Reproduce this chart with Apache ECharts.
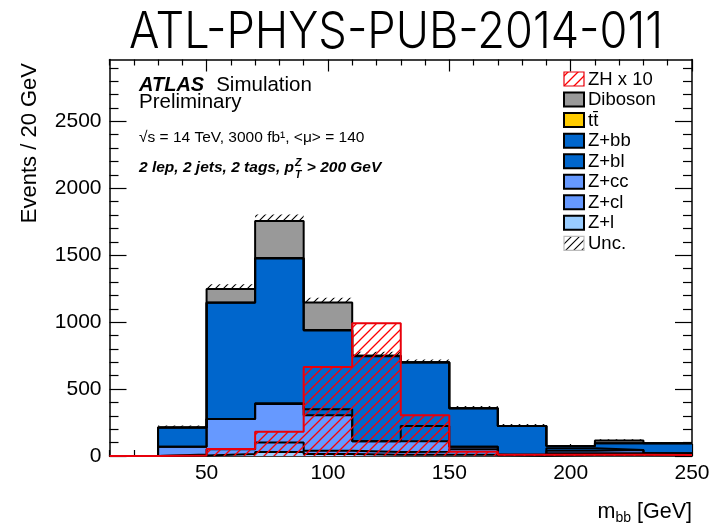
<!DOCTYPE html>
<html>
<head>
<meta charset="utf-8">
<script src="https://cdn.jsdelivr.net/npm/echarts@6/dist/echarts.min.js"></script>
<style>
  html, body { margin: 0; padding: 0; background: #fff; }
  #chart { width: 714px; height: 523px; }
</style>
</head>
<body>
<div id="chart"></div>
<script>
// m_bb bin edges [GeV], 20 GeV per bin
const binEdges = [10, 30, 50, 70, 90, 110, 130, 150, 170, 190, 210, 230, 250];

// Background expectation per bin, stacked from the bottom up
const zl      = [0, 3, 15, 30, 15, 10, 10, 10, 2, 8, 8, 5];
const zcl     = [0, 8, 35, 70, 25, 20, 22, 40, 3, 12, 12, 5];
const zcc     = [0, 59, 227, 289, 265, 80, 78, 20, 5, 20, 25, 10];
const zbl     = [0, 0, 0, 5, 45, 0, 114, 0, 0, 18, 0, 0];
const zbb     = [0, 142, 867, 1081, 588, 635, 474, 287, 214, 17, 50, 75];
const ttbar   = [0, 0, 3, 5, 4, 3, 3, 0, 0, 0, 0, 0];
const diboson = [0, 0, 101, 275, 205, 0, 0, 0, 0, 0, 20, 0];

// Total background uncertainty per bin
const bkgUnc  = [0, 15, 35, 50, 35, 30, 20, 17, 15, 8, 10, 8];

// ZH signal, scaled by 10
const zhx10   = [0, 4, 52, 182, 665, 992, 305, 32, 10, 10, 10, 8];

// Axis ticks and labels
const xMajor = [50, 100, 150, 200, 250];
const xMinor = [10, 20, 30, 40, 60, 70, 80, 90, 110, 120, 130, 140, 160, 170, 180, 190, 210, 220, 230, 240];
const yMajor = [0, 500, 1000, 1500, 2000, 2500];
const yMinor = [100, 200, 300, 400, 600, 700, 800, 900, 1100, 1200, 1300, 1400, 1600, 1700, 1800, 1900,
                2100, 2200, 2300, 2400, 2600, 2700, 2800, 2900];
const xMin = 10, xMax = 250, yMin = 0, yMax = 2962;

const FONT = '"Liberation Sans", Arial, Helvetica, sans-serif';

const nBins = binEdges.length - 1;
const layers = [
  { name: 'Z+l',     values: zl,      color: '#99ccff' },
  { name: 'Z+cl',    values: zcl,     color: '#6699ff' },
  { name: 'Z+cc',    values: zcc,     color: '#6699ff' },
  { name: 'Z+bl',    values: zbl,     color: '#0066cc' },
  { name: 'Z+bb',    values: zbb,     color: '#0066cc' },
  { name: 'tt\u0304', values: ttbar,  color: '#ffcc00' },
  { name: 'Diboson', values: diboson, color: '#999999' }
];

// running sums give the top edge of each stacked layer
let running = new Array(nBins).fill(0);
layers.forEach(l => {
  running = running.map((v, i) => v + l.values[i]);
  l.cum = running.slice();
});
const total = running;

// histogram as step points on the bin edges
function stepPoints(vals) {
  return binEdges.map((e, i) => [e, vals[Math.min(i, nBins - 1)]]);
}

// diagonal hatch tile used as a pattern fill
function hatch(color, size, width) {
  const c = document.createElement('canvas');
  c.width = size; c.height = size;
  const g = c.getContext('2d');
  g.strokeStyle = color;
  g.lineWidth = width;
  g.beginPath();
  g.moveTo(0, size); g.lineTo(size, 0);
  g.moveTo(-size / 2, size / 2); g.lineTo(size / 2, -size / 2);
  g.moveTo(size / 2, size * 1.5); g.lineTo(size * 1.5, size / 2);
  g.stroke();
  return { image: c, repeat: 'repeat' };
}
const redHatch = hatch('#ff0000', 10, 1.3);
const blackHatch = hatch('#000000', 8, 1.1);

const series = [];

// uncertainty band around the stacked total
series.push({
  type: 'custom',
  name: 'Unc.',
  z: 1,
  silent: true,
  clip: true,
  encode: { x: [0, 1], y: [2, 3] },
  data: total.map((t, i) => [binEdges[i], binEdges[i + 1], t - bkgUnc[i], t + bkgUnc[i]])
             .filter(d => d[3] > d[2]),
  renderItem(params, api) {
    const a = api.coord([api.value(0), api.value(3)]);
    const b = api.coord([api.value(1), api.value(2)]);
    return {
      type: 'rect',
      shape: { x: a[0], y: a[1], width: b[0] - a[0], height: b[1] - a[1] },
      style: { fill: blackHatch, stroke: null }
    };
  }
});

// stacked backgrounds, largest envelope first so smaller ones sit on top
layers.slice().reverse().forEach(l => {
  series.push({
    type: 'line',
    name: l.name,
    step: 'end',
    z: 2,
    silent: true,
    symbol: 'none',
    showSymbol: false,
    data: stepPoints(l.cum),
    lineStyle: { color: '#000', width: 2 },
    areaStyle: { color: l.color, opacity: 1 }
  });
});

// ZH x 10 overlay
series.push({
  type: 'line',
  name: 'ZH x 10',
  step: 'end',
  z: 3,
  silent: true,
  symbol: 'none',
  showSymbol: false,
  data: stepPoints(zhx10),
  lineStyle: { color: '#e8000b', width: 2 },
  areaStyle: { color: redHatch, opacity: 1 }
});

const plainNumber = v => String(v);

function xAxisDef(position, ticks, len, labels, showLine) {
  return {
    type: 'value', min: xMin, max: xMax, position: position,
    axisLine: { show: showLine, onZero: false, lineStyle: { color: '#000', width: 1.5 } },
    axisTick: { show: true, inside: true, length: len, customValues: ticks, lineStyle: { color: '#000', width: 1.2 } },
    axisLabel: labels
      ? { show: true, customValues: labels, formatter: plainNumber, color: '#000', fontSize: 21, fontFamily: FONT, margin: 7 }
      : { show: false },
    splitLine: { show: false }
  };
}
function yAxisDef(position, ticks, len, labels, showLine) {
  return {
    type: 'value', min: yMin, max: yMax, position: position,
    axisLine: { show: showLine, onZero: false, lineStyle: { color: '#000', width: 1.5 } },
    axisTick: { show: true, inside: true, length: len, customValues: ticks, lineStyle: { color: '#000', width: 1.2 } },
    axisLabel: labels
      ? { show: true, customValues: labels, formatter: plainNumber, color: '#000', fontSize: 21, fontFamily: FONT, margin: 8 }
      : { show: false },
    splitLine: { show: false }
  };
}

// text helpers
const mctx = document.createElement('canvas').getContext('2d');
function textWidth(str, font) { mctx.font = font; return mctx.measureText(str).width; }
function txt(str, x, y, font, opts) {
  return {
    type: 'text', silent: true, z: 50,
    style: Object.assign({ text: str, x: x, y: y, font: font, fill: '#000', align: 'left', verticalAlign: 'middle' }, opts || {})
  };
}

const graphics = [];

// document number above the frame, squeezed to its column width
const docId = 'ATL-PHYS-PUB-2014-011';
const fDoc = '300 50px Inter, Lato, "Open Sans", sans-serif';
const docScale = 534 / textWidth(docId, fDoc);
graphics.push({
  type: 'text', silent: true, z: 50, x: 396, y: 33, scaleX: docScale,
  style: { text: docId, x: 0, y: 0, font: fDoc, fill: '#000', align: 'center', verticalAlign: 'middle' }
});

// ATLAS label block
const fAtlas = 'bold italic 20px ' + FONT;
const fSim = '20.5px ' + FONT;
graphics.push(txt('ATLAS', 139, 85, fAtlas));
graphics.push(txt('Simulation', 139 + textWidth('ATLAS', fAtlas) + 12, 85, fSim));
graphics.push(txt('Preliminary', 139, 102, fSim));
graphics.push(txt('\u221As = 14 TeV, 3000 fb\u00B9, <\u03BC> = 140', 139, 138, '15.5px ' + FONT));

const fSel = 'bold italic 15.5px ' + FONT;
const fSelSmall = 'bold italic 10.5px ' + FONT;
const selA = '2 lep, 2 jets, 2 tags, p';
const wA = textWidth(selA, fSel);
graphics.push(txt(selA, 139, 168, fSel));
graphics.push(txt('Z', 139 + wA + 1, 163, fSelSmall));
graphics.push(txt('T', 139 + wA + 1, 175, fSelSmall));
graphics.push(txt(' > 200 GeV', 139 + wA + 1 + textWidth('Z', fSelSmall) + 1, 168, fSel));

// axis titles
graphics.push({
  type: 'text', silent: true, z: 50, x: 30, y: 63, rotation: Math.PI / 2,
  style: { text: 'Events / 20 GeV', x: 0, y: 0, font: '22px ' + FONT, fill: '#000', align: 'right', verticalAlign: 'middle' }
});
const fAx = '21.5px ' + FONT, fAxSub = '14px ' + FONT;
const wGeV = textWidth(' [GeV]', fAx);
const wbb = textWidth('bb', fAxSub);
const wm = textWidth('m', fAx);
const xRight = 692;
graphics.push(txt(' [GeV]', xRight - wGeV, 512, fAx));
graphics.push(txt('bb', xRight - wGeV - wbb, 518, fAxSub));
graphics.push(txt('m', xRight - wGeV - wbb - wm, 512, fAx));

// legend
const legendItems = [
  { label: 'ZH x 10', fill: redHatch, stroke: '#e8000b' },
  { label: 'Diboson', fill: '#999999', stroke: '#000' },
  { label: 'tt\u0304', fill: '#ffcc00', stroke: '#000' },
  { label: 'Z+bb', fill: '#0066cc', stroke: '#000' },
  { label: 'Z+bl', fill: '#0066cc', stroke: '#000' },
  { label: 'Z+cc', fill: '#6699ff', stroke: '#000' },
  { label: 'Z+cl', fill: '#6699ff', stroke: '#000' },
  { label: 'Z+l', fill: '#99ccff', stroke: '#000' },
  { label: 'Unc.', fill: blackHatch, stroke: '#bbbbbb' }
];
legendItems.forEach((it, i) => {
  const cy = 79 + i * 20.55;
  graphics.push({
    type: 'rect', silent: true, z: 50,
    shape: { x: 564, y: cy - 7, width: 20, height: 14 },
    style: { fill: it.fill, stroke: it.stroke, lineWidth: it.stroke === '#000' ? 2 : 1.2 }
  });
  graphics.push(txt(it.label, 588, cy + 0.5, '18.5px ' + FONT));
});

const chart = echarts.init(document.getElementById('chart'), null, { renderer: 'canvas' });
chart.setOption({
  animation: false,
  backgroundColor: '#fff',
  grid: { left: 109.5, right: 22, top: 59.5, bottom: 67, containLabel: false, outerBoundsMode: 'none' },
  xAxis: [
    xAxisDef('bottom', xMajor, 12, xMajor, true),
    xAxisDef('top', xMajor, 12, null, true),
    xAxisDef('bottom', xMinor, 6, null, false),
    xAxisDef('top', xMinor, 6, null, false)
  ],
  yAxis: [
    yAxisDef('left', yMajor, 17, yMajor, true),
    yAxisDef('right', yMajor, 17, null, true),
    yAxisDef('left', yMinor, 9, null, false),
    yAxisDef('right', yMinor, 9, null, false)
  ],
  series: series,
  graphic: { elements: graphics }
});
</script>
</body>
</html>
